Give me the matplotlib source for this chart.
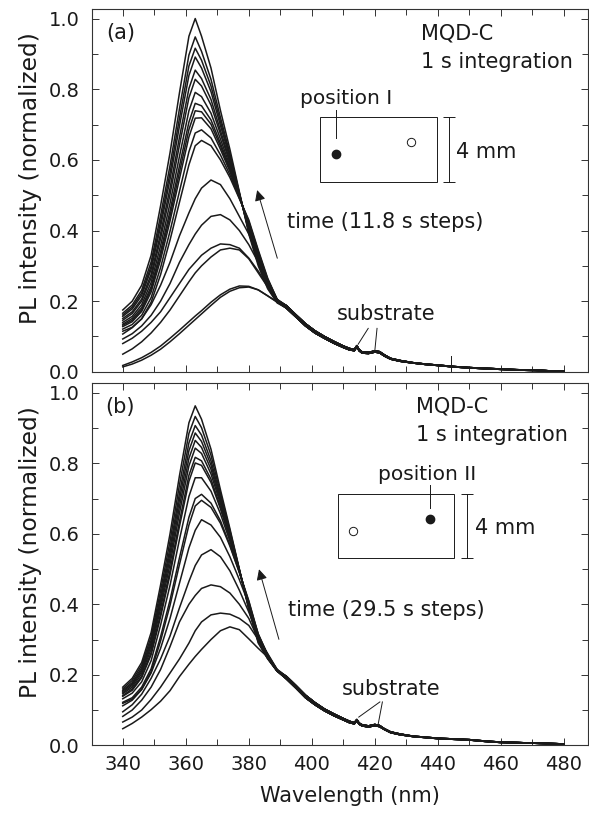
import numpy as np
import matplotlib.pyplot as plt
from matplotlib.patches import Rectangle
from matplotlib.ticker import MultipleLocator

# wavelength grids (nm): peak region read per curve, tail shared by all curves
wl_peak = [340, 343, 346, 349, 352, 355, 358, 361, 363, 365, 368, 371, 374, 377, 380, 383, 386, 389]
wl_tail = [392, 395, 398, 401, 404, 407, 410, 412, 413.5, 414.3, 415, 416, 418, 420, 421.5, 423,
           425, 428, 432, 436, 440, 445, 450, 455, 460, 465, 470, 475, 480]

# panel (a): dense group of spectra near the 363 nm peak
cluster_a = [
    [.175, .200, .245, .330, .470, .620, .790, .950, 1.00, .950, .860, .740, .630, .510, .390, .300, .235, .195],
    [.166, .189, .231, .311, .442, .584, .745, .897, .948, .907, .828, .720, .618, .507, .396, .307, .239, .197],
    [.161, .183, .223, .299, .425, .563, .718, .866, .916, .882, .809, .708, .611, .505, .399, .310, .242, .197],
    [.157, .178, .216, .290, .411, .545, .696, .839, .891, .860, .793, .697, .606, .504, .402, .314, .244, .198],
    [.151, .170, .206, .276, .391, .520, .664, .802, .854, .830, .771, .683, .598, .502, .406, .318, .247, .199],
    [.146, .165, .200, .266, .377, .502, .642, .776, .828, .809, .755, .673, .592, .500, .409, .322, .249, .200],
    [.140, .157, .190, .253, .357, .477, .610, .739, .791, .779, .732, .659, .584, .498, .413, .326, .252, .201],
    [.135, .151, .182, .241, .340, .455, .583, .707, .760, .753, .713, .647, .577, .497, .417, .330, .255, .202],
    [.132, .146, .176, .234, .329, .441, .565, .686, .739, .736, .701, .639, .572, .496, .419, .333, .257, .202],
    [.128, .142, .171, .226, .317, .427, .547, .665, .718, .719, .688, .630, .567, .494, .421, .335, .259, .203],
    [.121, .134, .160, .210, .295, .398, .511, .623, .676, .685, .662, .614, .558, .492, .426, .341, .262, .204],
    [.115, .126, .150, .197, .275, .373, .480, .586, .640, .655, .640, .600, .550, .490, .430, .345, .265, .205],
]
# panel (a): early, red-shifted spectra
separate_a = [
    [.107, .125, .150, .190, .245, .310, .385, .450, .490, .520, .543, .530, .490, .440, .390, .330, .260, .205],
    [.093, .108, .130, .160, .200, .250, .310, .360, .390, .415, .440, .445, .430, .400, .360, .310, .255, .205],
    [.080, .095, .115, .140, .170, .210, .250, .290, .310, .330, .350, .362, .360, .350, .322, .285, .243, .203],
    [.050, .065, .085, .110, .140, .175, .215, .255, .280, .300, .325, .345, .350, .345, .320, .280, .240, .203],
    [.018, .028, .040, .055, .073, .095, .118, .142, .158, .173, .197, .218, .234, .243, .242, .232, .215, .198],
    [.014, .022, .033, .047, .064, .085, .108, .132, .148, .164, .188, .211, .228, .238, .240, .232, .215, .197],
]
tail_a = [.180, .155, .130, .110, .095, .081, .069, .062, .060, .071, .060, .053, .052, .056, .054, .045,
          .036, .030, .025, .021, .018, .014, .011, .009, .007, .005, .004, .003, .002]
tail_a_hi = [.187, .161, .136, .116, .100, .086, .073, .066, .063, .074, .063, .056, .055, .059, .057, .048,
             .038, .032, .026, .022, .019, .015, .012, .010, .008, .006, .005, .003, .002]

# panel (b)
cluster_b = [
    [.165, .190, .235, .320, .455, .600, .765, .915, .963, .925, .840, .725, .615, .500, .385, .290, .245, .210],
    [.160, .184, .227, .308, .438, .579, .739, .885, .933, .901, .823, .715, .610, .499, .388, .293, .246, .210],
    [.156, .178, .220, .298, .423, .560, .715, .858, .907, .880, .807, .706, .605, .498, .390, .295, .247, .210],
    [.153, .174, .214, .290, .412, .545, .697, .836, .886, .862, .795, .699, .601, .497, .392, .297, .248, .211],
    [.149, .170, .209, .282, .400, .530, .678, .814, .865, .845, .783, .692, .598, .497, .394, .299, .249, .211],
    [.146, .165, .203, .273, .388, .514, .659, .793, .843, .828, .770, .685, .594, .496, .396, .301, .249, .211],
    [.141, .160, .196, .263, .373, .496, .635, .766, .817, .807, .755, .676, .589, .495, .398, .303, .250, .211],
    [.139, .156, .192, .257, .364, .484, .621, .749, .801, .794, .746, .671, .586, .494, .399, .304, .251, .211],
    [.132, .148, .180, .240, .341, .454, .584, .706, .759, .759, .721, .657, .579, .493, .403, .308, .252, .211],
    [.122, .135, .165, .217, .308, .412, .532, .647, .700, .712, .687, .637, .569, .491, .408, .313, .254, .212],
    [.119, .131, .159, .209, .296, .397, .513, .625, .679, .695, .675, .630, .565, .490, .410, .315, .255, .212],
]
separate_b = [
    [.112, .128, .158, .205, .275, .360, .460, .560, .610, .640, .625, .590, .535, .470, .400, .316, .257, .212],
    [.095, .115, .145, .190, .245, .310, .390, .465, .510, .540, .555, .535, .495, .440, .378, .310, .258, .213],
    [.082, .100, .128, .165, .215, .280, .350, .400, .425, .445, .455, .450, .432, .400, .360, .300, .255, .215],
    [.066, .080, .100, .130, .165, .205, .245, .290, .325, .350, .370, .375, .372, .360, .340, .300, .260, .215],
    [.047, .062, .080, .101, .125, .155, .195, .230, .252, .272, .300, .325, .336, .328, .302, .275, .250, .215],
]
tail_b = [.188, .162, .135, .115, .098, .084, .072, .064, .061, .070, .060, .055, .052, .056, .053, .045,
          .036, .030, .025, .022, .019, .017, .015, .011, .008, .007, .006, .005, .004]
tail_b_hi = [.195, .169, .142, .121, .103, .089, .076, .068, .064, .073, .063, .058, .055, .059, .056, .047,
             .038, .032, .026, .023, .020, .018, .016, .012, .009, .008, .006, .005, .004]

ink = '#1a1a1a'
plt.rcParams['font.family'] = 'DejaVu Sans'

fig = plt.figure(figsize=(5.89, 8.19), dpi=100)
ax_a = fig.add_axes([0.156, 0.546, 0.842, 0.443])
ax_b = fig.add_axes([0.156, 0.090, 0.842, 0.442])


def draw_spectra(ax, rows, tail, tail_hi):
    x = list(wl_peak) + list(wl_tail)
    for i, row in enumerate(rows):
        t = tail if i % 2 == 0 else tail_hi
        ax.plot(x, list(row) + list(t), color=ink, lw=1.1, solid_joinstyle='round')


def sample_sketch(ax, rect, filled, hollow, label, label_xy, pointer, bar_x, mm_xy):
    x0, y0, x1, y1 = rect
    ax.add_patch(Rectangle((x0, y0), x1 - x0, y1 - y0, fill=False, lw=0.7, ec=ink))
    ax.plot(filled[0], filled[1], 'o', ms=6, color=ink)
    ax.plot(hollow[0], hollow[1], 'o', ms=6, mfc='white', mec=ink, mew=0.7)
    ax.plot([pointer[0], pointer[0]], [pointer[1], pointer[2]], color=ink, lw=0.7)
    ax.text(label_xy[0], label_xy[1], label, fontsize=14.5, va='center', ha='left', color=ink)
    ax.plot([bar_x, bar_x], [y0, y1], color=ink, lw=0.7, marker='_', ms=9, mew=0.7)
    ax.text(mm_xy[0], mm_xy[1], '4 mm', fontsize=15, va='center', ha='left', color=ink)


def style_axes(ax, show_x):
    ax.set_xlim(330.2, 487.6)
    ax.set_ylim(0, 1.027)
    ax.xaxis.set_major_locator(MultipleLocator(20))
    ax.xaxis.set_minor_locator(MultipleLocator(10))
    ax.yaxis.set_major_locator(MultipleLocator(0.2))
    ax.yaxis.set_minor_locator(MultipleLocator(0.1))
    ax.set_xticks(np.arange(340, 481, 20))
    ax.tick_params(which='both', direction='in', top=True, right=True, width=0.7,
                   color='#333333', labelsize=14, labelcolor=ink)
    ax.tick_params(which='major', length=5)
    ax.tick_params(which='minor', length=4)
    ax.tick_params(axis='y', pad=9)
    ax.tick_params(axis='x', pad=7)
    ax.yaxis.set_major_formatter(plt.FormatStrFormatter('%.1f'))
    if not show_x:
        ax.tick_params(axis='x', labelbottom=False)
    for s in ax.spines.values():
        s.set_linewidth(0.8)
        s.set_color('#333333')
    ax.set_ylabel('PL intensity (normalized)', fontsize=16.8, color=ink)
    ax.yaxis.set_label_coords(-0.10, 0.535)


# ---- panel (a)
draw_spectra(ax_a, cluster_a + separate_a, tail_a, tail_a_hi)
style_axes(ax_a, False)
ax_a.text(334.9, 0.959, '(a)', fontsize=15, va='center', ha='left', color=ink)
ax_a.text(434.6, 0.959, 'MQD-C', fontsize=15, va='center', ha='left', color=ink)
ax_a.text(434.6, 0.878, '1 s integration', fontsize=15, va='center', ha='left', color=ink)
sample_sketch(ax_a, (402.5, 0.536, 439.6, 0.720), (407.6, 0.617), (431.6, 0.650),
              'position I', (396.2, 0.773), (407.6, 0.662, 0.742), 443.5, (445.9, 0.621))
ax_a.text(392.0, 0.423, 'time (11.8 s steps)', fontsize=15, va='center', ha='left', color=ink)
ax_a.annotate('', xy=(382.4, 0.522), xytext=(389.3, 0.314),
              arrowprops=dict(arrowstyle='-|>', lw=0.7, color=ink, mutation_scale=16))
ax_a.text(408.0, 0.163, 'substrate', fontsize=15, va='center', ha='left', color=ink)
ax_a.plot([417.9, 414.7], [0.123, 0.078], color=ink, lw=0.7)
ax_a.plot([420.7, 420.0], [0.123, 0.060], color=ink, lw=0.7)
ax_a.plot([444.1, 444.1], [0.0, 0.045], color=ink, lw=0.7)

# ---- panel (b)
draw_spectra(ax_b, cluster_b + separate_b, tail_b, tail_b_hi)
style_axes(ax_b, True)
ax_b.text(334.3, 0.960, '(b)', fontsize=15, va='center', ha='left', color=ink)
ax_b.text(433.2, 0.961, 'MQD-C', fontsize=15, va='center', ha='left', color=ink)
ax_b.text(433.2, 0.881, '1 s integration', fontsize=15, va='center', ha='left', color=ink)
sample_sketch(ax_b, (408.4, 0.530, 445.2, 0.713), (437.5, 0.642), (413.1, 0.608),
              'position II', (421.1, 0.767), (437.5, 0.673, 0.739), 449.1, (451.7, 0.616))
ax_b.text(392.5, 0.384, 'time (29.5 s steps)', fontsize=15, va='center', ha='left', color=ink)
ax_b.annotate('', xy=(383.0, 0.507), xytext=(389.8, 0.293),
              arrowprops=dict(arrowstyle='-|>', lw=0.7, color=ink, mutation_scale=16))
ax_b.text(409.4, 0.161, 'substrate', fontsize=15, va='center', ha='left', color=ink)
ax_b.plot([421.6, 414.9], [0.123, 0.080], color=ink, lw=0.7)
ax_b.plot([422.4, 421.0], [0.123, 0.057], color=ink, lw=0.7)
ax_b.set_xlabel('Wavelength (nm)', fontsize=15, color=ink)
ax_b.xaxis.set_label_coords(0.52, -0.113)

fig.savefig('out.png', dpi=100)
